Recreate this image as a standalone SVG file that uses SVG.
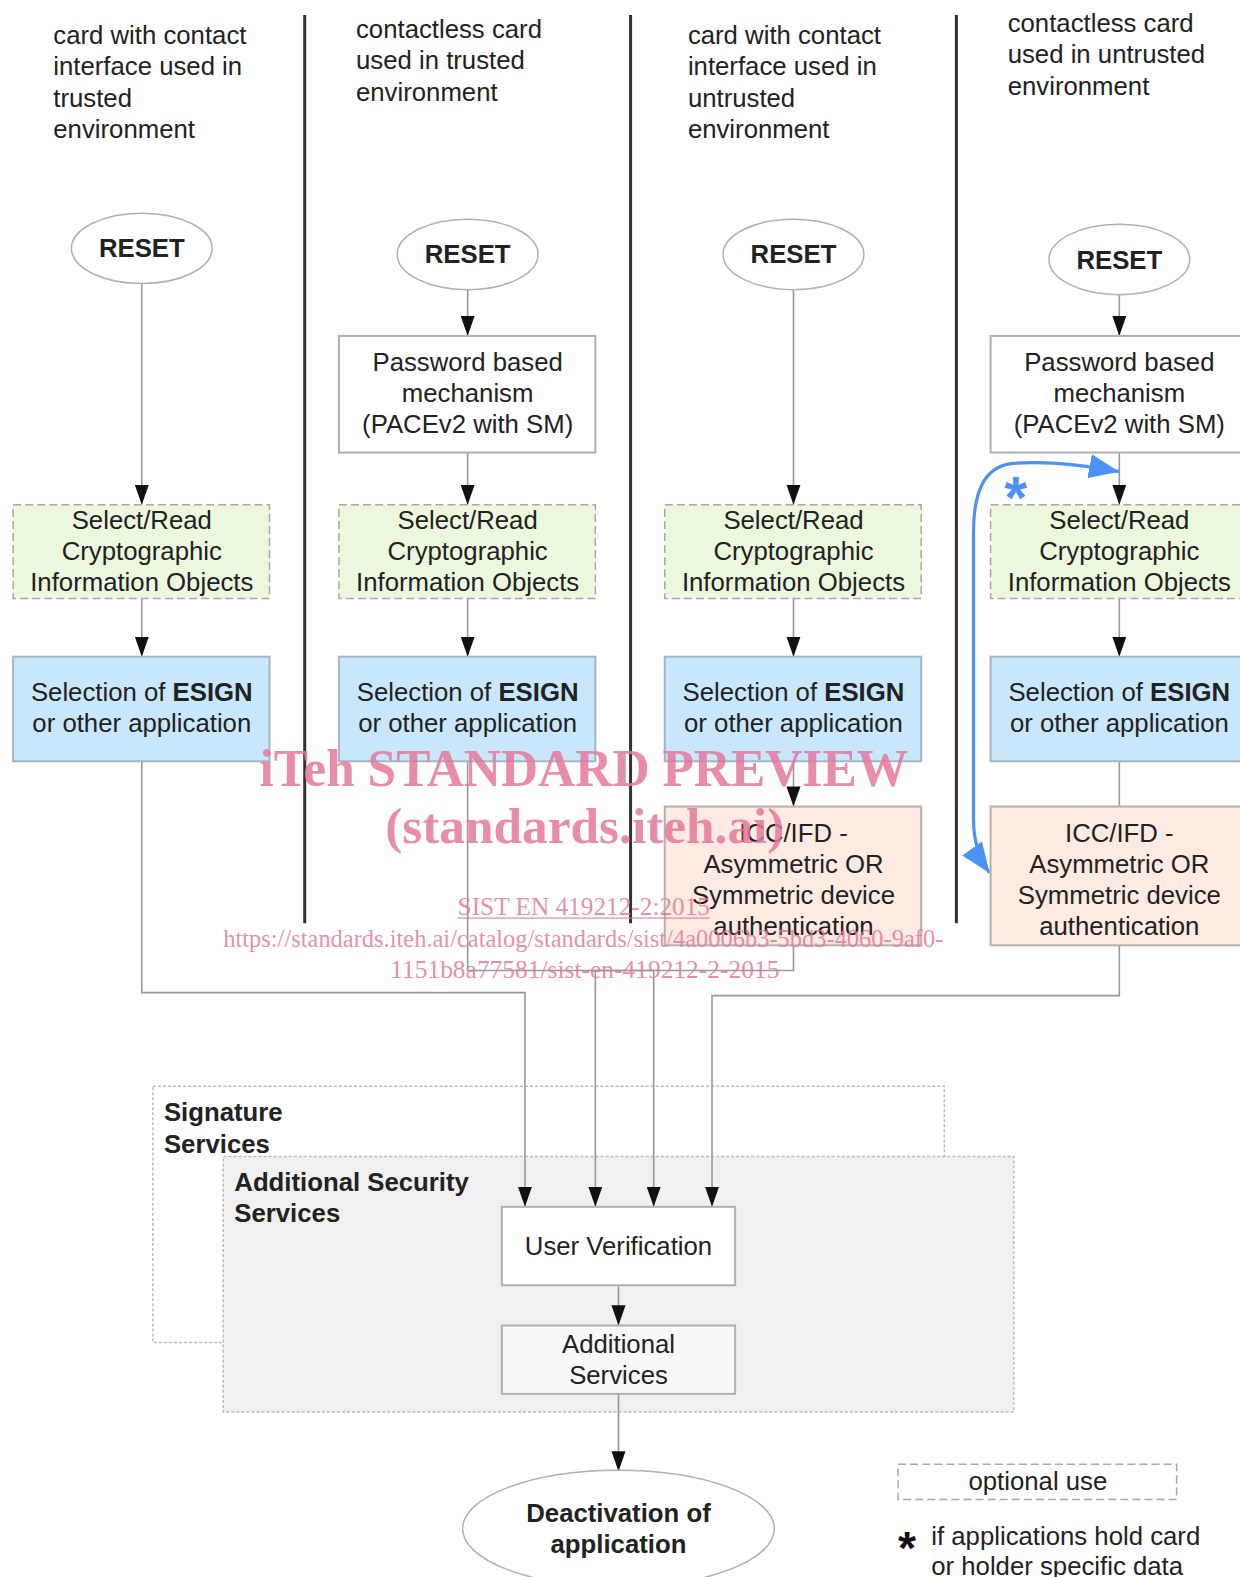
<svg xmlns="http://www.w3.org/2000/svg" width="1240" height="1577" viewBox="0 0 1240 1577">
<defs>
<style>
.t{font-family:"Liberation Sans",Arial,sans-serif;font-size:25.6px;fill:#222}
.b{font-weight:bold}
.c{text-anchor:middle}
.ell{fill:#fff;stroke:#b0b0b0;stroke-width:1.5}
.pw{fill:#fff;stroke:#b0b0b0;stroke-width:2}
.sel{fill:#ebf8de;stroke:#a8a8a8;stroke-width:1.5;stroke-dasharray:8 4}
.es{fill:#c9e7fb;stroke:#a3b6c6;stroke-width:2}
.icc{fill:#fdeae1;stroke:#b8b0ac;stroke-width:2}
.div{stroke:#333;stroke-width:3;fill:none}
.ln{stroke:#999;stroke-width:1.6;fill:none}
.arr{marker-end:url(#ah)}
.wm{font-family:"Liberation Serif","Times New Roman",serif;fill:#e4789b;fill-opacity:0.85}
</style>
<marker id="ah" markerUnits="userSpaceOnUse" viewBox="0 0 20 14" refX="20" refY="7" markerWidth="20" markerHeight="14" orient="auto">
<path d="M0,0 L20,7 L0,14 z" fill="#111"/>
</marker>
<marker id="bh" markerUnits="userSpaceOnUse" viewBox="0 0 30 24" refX="30" refY="12" markerWidth="30" markerHeight="24" orient="auto-start-reverse">
<path d="M0,0 L30,12 L0,24 z" fill="#4a92f7"/>
</marker>
</defs>
<rect width="1240" height="1577" fill="#fff"/>
<g transform="scale(1.00568)">

<g id="dividers">
<line class="div" x1="303" y1="15" x2="303" y2="918"/>
<line class="div" x1="627" y1="15" x2="627" y2="918"/>
<line class="div" x1="951" y1="15" x2="951" y2="918"/>
</g>

<g id="headers">
<text class="t" x="53" y="44">card with contact</text>
<text class="t" x="53" y="75">interface used in</text>
<text class="t" x="53" y="106">trusted</text>
<text class="t" x="53" y="137">environment</text>
<text class="t" x="354" y="38">contactless card</text>
<text class="t" x="354" y="69">used in trusted</text>
<text class="t" x="354" y="100">environment</text>
<text class="t" x="684" y="44">card with contact</text>
<text class="t" x="684" y="75">interface used in</text>
<text class="t" x="684" y="106">untrusted</text>
<text class="t" x="684" y="137">environment</text>
<text class="t" x="1002" y="32">contactless card</text>
<text class="t" x="1002" y="63">used in untrusted</text>
<text class="t" x="1002" y="94">environment</text>
</g>

<g id="sigserv"><rect x="152" y="1080" width="787" height="255" fill="#fff" stroke="#bbb" stroke-width="1.5" stroke-dasharray="3 2"/>
<text class="t b" x="163" y="1115">Signature</text><text class="t b" x="163" y="1146">Services</text></g>
<g id="addsec"><rect x="222" y="1150" width="786" height="254" fill="#f0f0f0" stroke="#bbb" stroke-width="1.5" stroke-dasharray="3 2"/>
<text class="t b" x="233" y="1184">Additional Security</text><text class="t b" x="233" y="1215">Services</text></g>

<g id="connectors">
<path class="ln arr" d="M141,282 V502"/>
<path class="ln arr" d="M141,595 V653"/>
<path class="ln arr" d="M141,757 V987 H522 V1200"/>
<path class="ln arr" d="M465,288 V334"/>
<path class="ln arr" d="M465,450 V502"/>
<path class="ln arr" d="M465,595 V653"/>
<path class="ln arr" d="M465,757 V965 H650 V1200"/>
<path class="ln arr" d="M789,288 V502"/>
<path class="ln arr" d="M789,595 V653"/>
<path class="ln arr" d="M789,757 V802"/>
<path class="ln arr" d="M789,940 V965 H592 V1200"/>
<path class="ln arr" d="M1113,293 V334"/>
<path class="ln arr" d="M1113,450 V502"/>
<path class="ln arr" d="M1113,595 V653"/>
<path class="ln" d="M1113,757 V802"/>
<path class="ln arr" d="M1113,940 V990 H708 V1200"/>
<path class="ln arr" d="M615,1278 V1318"/>
<path class="ln arr" d="M615,1386 V1463"/>
<path d="M1113,469 C1070,461 1035,458 1005,461 C978,465 968,490 968,530 L968,815 C968,838 974,854 984,868" fill="none" stroke="#4a92f7" stroke-width="3.2" marker-start="url(#bh)" marker-end="url(#bh)"/>
<text x="1010" y="515" class="c" font-family="Liberation Sans,Arial,sans-serif" font-size="58" font-weight="bold" fill="#4a92f7">*</text>
</g>

<g id="reset1"><ellipse class="ell" cx="141" cy="247" rx="70" ry="35"/><text class="t b c" x="141" y="256">RESET</text></g>
<g id="reset2"><ellipse class="ell" cx="465" cy="253" rx="70" ry="35"/><text class="t b c" x="465" y="262">RESET</text></g>
<g id="reset3"><ellipse class="ell" cx="789" cy="253" rx="70" ry="35"/><text class="t b c" x="789" y="262">RESET</text></g>
<g id="reset4"><ellipse class="ell" cx="1113" cy="258" rx="70" ry="35"/><text class="t b c" x="1113" y="267">RESET</text></g>

<g id="pace2"><rect class="pw" x="337" y="334" width="255" height="116"/>
<text class="t c" x="465" y="369">Password based</text><text class="t c" x="465" y="400">mechanism</text><text class="t c" x="465" y="431">(PACEv2 with SM)</text></g>
<g id="pace4"><rect class="pw" x="985" y="334" width="255" height="116"/>
<text class="t c" x="1113" y="369">Password based</text><text class="t c" x="1113" y="400">mechanism</text><text class="t c" x="1113" y="431">(PACEv2 with SM)</text></g>

<g id="sel1"><rect class="sel" x="13" y="502" width="255" height="93"/>
<text class="t c" x="141" y="526">Select/Read</text><text class="t c" x="141" y="557">Cryptographic</text><text class="t c" x="141" y="588">Information Objects</text></g>
<g id="sel2"><rect class="sel" x="337" y="502" width="255" height="93"/>
<text class="t c" x="465" y="526">Select/Read</text><text class="t c" x="465" y="557">Cryptographic</text><text class="t c" x="465" y="588">Information Objects</text></g>
<g id="sel3"><rect class="sel" x="661" y="502" width="255" height="93"/>
<text class="t c" x="789" y="526">Select/Read</text><text class="t c" x="789" y="557">Cryptographic</text><text class="t c" x="789" y="588">Information Objects</text></g>
<g id="sel4"><rect class="sel" x="985" y="502" width="255" height="93"/>
<text class="t c" x="1113" y="526">Select/Read</text><text class="t c" x="1113" y="557">Cryptographic</text><text class="t c" x="1113" y="588">Information Objects</text></g>

<g id="esign1"><rect class="es" x="13" y="653" width="255" height="104"/>
<text class="t c" x="141" y="697">Selection of <tspan class="b">ESIGN</tspan></text><text class="t c" x="141" y="728">or other application</text></g>
<g id="esign2"><rect class="es" x="337" y="653" width="255" height="104"/>
<text class="t c" x="465" y="697">Selection of <tspan class="b">ESIGN</tspan></text><text class="t c" x="465" y="728">or other application</text></g>
<g id="esign3"><rect class="es" x="661" y="653" width="255" height="104"/>
<text class="t c" x="789" y="697">Selection of <tspan class="b">ESIGN</tspan></text><text class="t c" x="789" y="728">or other application</text></g>
<g id="esign4"><rect class="es" x="985" y="653" width="255" height="104"/>
<text class="t c" x="1113" y="697">Selection of <tspan class="b">ESIGN</tspan></text><text class="t c" x="1113" y="728">or other application</text></g>

<g id="icc3"><rect class="icc" x="661" y="802" width="255" height="138"/>
<text class="t c" x="789" y="837">ICC/IFD -</text><text class="t c" x="789" y="868">Asymmetric OR</text><text class="t c" x="789" y="899">Symmetric device</text><text class="t c" x="789" y="930">authentication</text></g>
<g id="icc4"><rect class="icc" x="985" y="802" width="255" height="138"/>
<text class="t c" x="1113" y="837">ICC/IFD -</text><text class="t c" x="1113" y="868">Asymmetric OR</text><text class="t c" x="1113" y="899">Symmetric device</text><text class="t c" x="1113" y="930">authentication</text></g>

<g id="userver"><rect x="499" y="1200" width="232" height="78" fill="#fff" stroke="#b0b0b0" stroke-width="2"/>
<text class="t c" x="615" y="1248">User Verification</text></g>
<g id="addserv"><rect x="499" y="1318" width="232" height="68" fill="#f8f8f8" stroke="#b0b0b0" stroke-width="2"/>
<text class="t c" x="615" y="1345">Additional</text><text class="t c" x="615" y="1376">Services</text></g>

<g id="deact"><ellipse class="ell" cx="615" cy="1520" rx="155" ry="58"/>
<text class="t b c" x="615" y="1513">Deactivation of</text><text class="t b c" x="615" y="1544">application</text></g>

<g id="legend">
<rect x="893" y="1456" width="277" height="35" fill="#fff" stroke="#aaa" stroke-width="1.5" stroke-dasharray="8 4"/>
<text class="t c" x="1032" y="1482">optional use</text>
<text x="902" y="1555" class="c" font-family="Liberation Sans,Arial,sans-serif" font-size="46" font-weight="bold" fill="#111">*</text>
<text class="t" x="926" y="1536">if applications hold card</text>
<text class="t" x="926" y="1566">or holder specific data</text>
</g>

<g id="watermark">
<text class="wm" x="258" y="782" font-size="52" font-weight="bold" textLength="645" lengthAdjust="spacingAndGlyphs">iTeh STANDARD PREVIEW</text>
<text class="wm" x="383" y="838" font-size="51" font-weight="bold" textLength="397" lengthAdjust="spacingAndGlyphs">(standards.iteh.ai)</text>
<text class="wm" x="455" y="910" font-size="25" textLength="251" lengthAdjust="spacingAndGlyphs">SIST EN 419212-2:2015</text>
<line x1="455" y1="913" x2="706" y2="913" stroke="#e4789b" stroke-opacity="0.85" stroke-width="1.3"/>
<text class="wm" x="222" y="942" font-size="25" textLength="716" lengthAdjust="spacingAndGlyphs">https://standards.iteh.ai/catalog/standards/sist/4a0006b3-5bd3-4060-9af0-</text>
<text class="wm" x="388" y="972" font-size="25" textLength="387" lengthAdjust="spacingAndGlyphs">1151b8a77581/sist-en-419212-2-2015</text>
</g>
</g>
</svg>
